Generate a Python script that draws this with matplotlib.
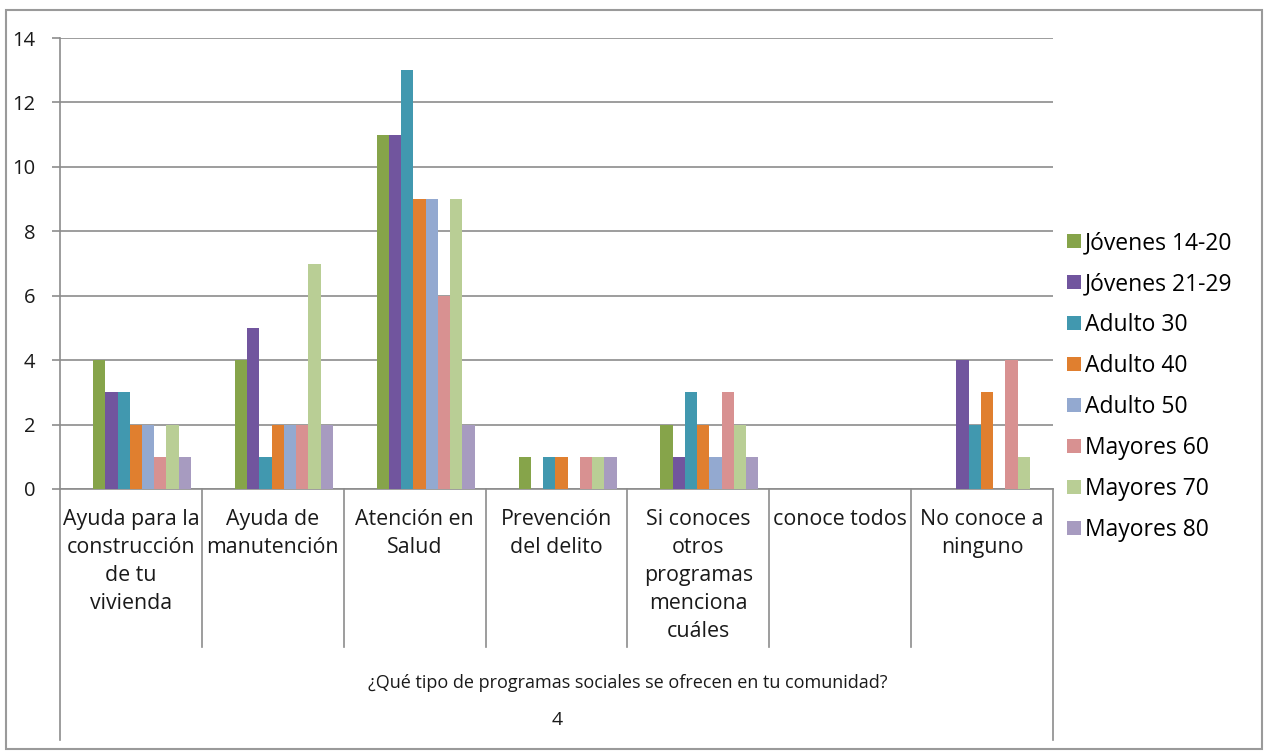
import matplotlib.pyplot as plt
import matplotlib.transforms as mtransforms
from matplotlib.patches import Rectangle
import numpy as np

plt.rcParams['font.family'] = ['Open Sans', 'DejaVu Sans']

categories = ["Ayuda para la\nconstrucción\nde tu\nvivienda",
              "Ayuda de\nmanutención",
              "Atención en\nSalud",
              "Prevención\ndel delito",
              "Si conoces\notros\nprogramas\nmenciona\ncuáles",
              "conoce todos",
              "No conoce a\nninguno"]

series_names = ["Jóvenes 14-20", "Jóvenes 21-29", "Adulto 30", "Adulto 40",
                "Adulto 50", "Mayores 60", "Mayores 70", "Mayores 80"]

jovenes_14_20 = [4, 4, 11, 1, 2, 0, 0]
jovenes_21_29 = [3, 5, 11, 0, 1, 0, 4]
adulto_30 = [3, 1, 13, 1, 3, 0, 2]
adulto_40 = [2, 2, 9, 1, 2, 0, 3]
adulto_50 = [2, 2, 9, 0, 1, 0, 0]
mayores_60 = [1, 2, 6, 1, 3, 0, 4]
mayores_70 = [2, 7, 9, 1, 2, 0, 1]
mayores_80 = [1, 2, 2, 1, 1, 0, 0]

series = [jovenes_14_20, jovenes_21_29, adulto_30, adulto_40,
          adulto_50, mayores_60, mayores_70, mayores_80]

colors = ["#86A44A", "#71559E", "#4198AF", "#E07F2F",
          "#93A9D0", "#D89191", "#B9CE95", "#A79BC0"]

txt = "#1a1a1a"
grey = "#8c8c8c"

fig = plt.figure(figsize=(12.64, 7.52), dpi=100)
ax = fig.add_axes([60/1264, 1 - 489/752, (1053 - 60)/1264, (489 - 38)/752])

x = np.arange(len(categories))
n = len(series)
bw = 0.69 / n
start = x - 0.345 + 0.078
for i, vals in enumerate(series):
    ax.bar(start + bw * (i + 0.5), vals, width=bw, color=colors[i],
           label=series_names[i], zorder=3)

ax.set_xlim(-0.5, len(categories) - 0.5)
ax.set_ylim(0, 14)
ax.set_yticks(range(0, 15, 2))
ax.yaxis.grid(True, color=grey, linewidth=1.2, zorder=0)
ax.set_xticks([])
for s in ["top", "right"]:
    ax.spines[s].set_visible(False)
for s in ["left", "bottom"]:
    ax.spines[s].set_color(grey)
    ax.spines[s].set_linewidth(1.2)
ax.tick_params(axis="y", length=6, width=1.2, color=grey, labelsize=14.5,
               labelcolor=txt, pad=12)

trans = mtransforms.blended_transform_factory(ax.transData, ax.transAxes)
for k, lab in enumerate(categories):
    ax.text(k, -0.045, lab, transform=trans, ha="center", va="top",
            fontsize=15.4, color=txt, linespacing=1.43)

for b in np.arange(0.5, len(categories) - 0.5, 1):
    ax.plot([b, b], [0, -0.35], transform=trans, color=grey,
            linewidth=1.2, clip_on=False)
for b in [-0.5, len(categories) - 0.5]:
    ax.plot([b, b], [0, -0.557], transform=trans, color=grey,
            linewidth=1.2, clip_on=False)

fig.text(628/1264, 1 - 683/752,
         "¿Qué tipo de programas sociales se ofrecen en tu comunidad?",
         ha="center", va="center", fontsize=13, color=txt)
fig.text(557/1264, 1 - 720/752, "4", ha="center", va="center",
         fontsize=14, color=txt)

ax.legend(loc="center left", bbox_to_anchor=(1.0, 0.227), frameon=False,
          fontsize=16.5, handlelength=0.6, handleheight=0.6,
          handletextpad=0.2, labelspacing=0.74, borderaxespad=0.2)

fig.patches.append(Rectangle((6/1264, 3/752), 1256/1264, 739/752,
                             transform=fig.transFigure, fill=False,
                             edgecolor="#9a9a9a", linewidth=1.5))

fig.savefig("out.png", dpi=100)
